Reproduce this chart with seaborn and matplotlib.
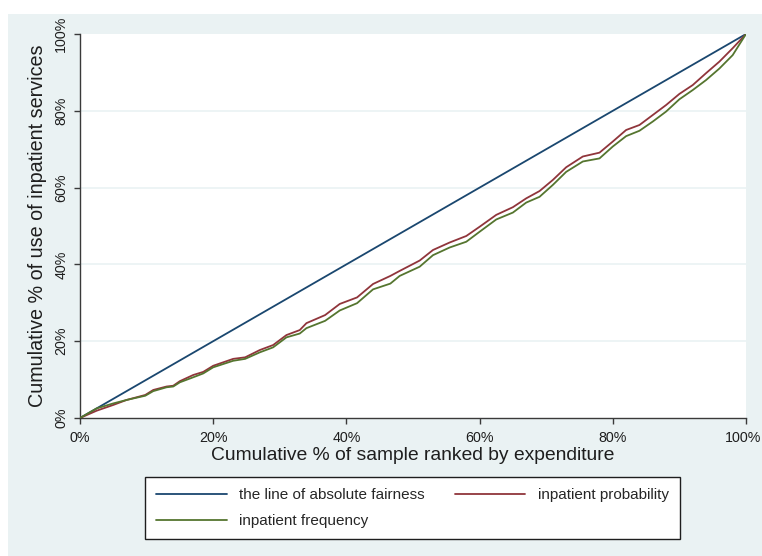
import matplotlib
matplotlib.use("Agg")
import matplotlib.pyplot as plt
import matplotlib.patches as mpatches
import matplotlib.transforms as mtransforms
from matplotlib.ticker import FixedLocator, FuncFormatter
import pandas as pd
import seaborn as sns

# Cumulative share of the sample, ranked by expenditure (%)
pop_share = [0, 2.5, 5, 7, 9.8, 11, 13, 14, 15, 17, 18.5, 20, 23, 24.8, 27, 29, 31, 33,
             34, 36.8, 39, 41.6, 44, 46.6, 48, 51, 53, 55.5, 58, 60, 62.5, 65, 67, 69,
             71, 73, 75.5, 78, 80, 82, 84, 86, 88, 90, 92, 94, 96, 98, 100]

# Concentration curve for inpatient probability (%)
prob_share = [0, 1.9, 3.4, 4.7, 6.0, 7.3, 8.2, 8.4, 9.6, 11.2, 12.0, 13.6, 15.4, 15.8,
              17.7, 19.0, 21.6, 22.9, 24.7, 26.8, 29.7, 31.4, 34.9, 37.0, 38.3, 41.0,
              43.75, 45.7, 47.4, 49.8, 52.9, 54.9, 57.2, 59.1, 62.0, 65.3, 68.1, 69.1,
              72.0, 75.0, 76.3, 78.9, 81.5, 84.4, 86.7, 89.8, 92.8, 96.3, 100]

# Concentration curve for inpatient frequency (%)
freq_share = [0, 2.5, 3.8, 4.7, 5.8, 7.0, 8.0, 8.2, 9.3, 10.6, 11.6, 13.2, 14.9, 15.4,
              17.1, 18.4, 21.0, 22.0, 23.4, 25.3, 28.0, 29.9, 33.5, 35.0, 37.0, 39.4,
              42.4, 44.4, 45.9, 48.5, 51.7, 53.5, 56.1, 57.6, 60.7, 64.1, 66.8, 67.6,
              70.7, 73.4, 74.8, 77.2, 79.8, 83.0, 85.4, 88.0, 91.0, 94.5, 100]

# Line of equality
equal_x = [0, 100]
equal_y = [0, 100]

tick_values = [0, 20, 40, 60, 80, 100]

label_equal = "the line of absolute fairness"
label_prob = "inpatient probability"
label_freq = "inpatient frequency"

NAVY = "#1A476F"
MAROON = "#90353B"
GREEN = "#55752F"
BG = "#EAF2F3"
INK = "#1e1e1e"

sns.set_theme(style="white")
plt.rcParams["font.family"] = ["Liberation Sans", "DejaVu Sans"]

W, H = 762, 556
fig = plt.figure(figsize=(W / 100, H / 100), dpi=100)
fig.patch.set_facecolor("white")
fig.patches.append(mpatches.Rectangle((8 / W, 0), 1, 1 - 14 / H, transform=fig.transFigure,
                                      facecolor=BG, edgecolor="none", zorder=-10))

ax = fig.add_axes([80 / W, 1 - 418 / H, (746 - 80) / W, (418 - 34) / H])
ax.set_facecolor("white")

df_eq = pd.DataFrame({"x": equal_x, "y": equal_y})
df_prob = pd.DataFrame({"x": pop_share, "y": prob_share})
df_freq = pd.DataFrame({"x": pop_share, "y": freq_share})

sns.lineplot(data=df_eq, x="x", y="y", ax=ax, color=NAVY, lw=1.3, label=label_equal,
             zorder=3)
sns.lineplot(data=df_prob, x="x", y="y", ax=ax, color=MAROON, lw=1.3, label=label_prob,
             zorder=3)
sns.lineplot(data=df_freq, x="x", y="y", ax=ax, color=GREEN, lw=1.3, label=label_freq,
             zorder=3)

ax.set_xlim(0, 100)
ax.set_ylim(0, 100)
ax.margins(0)

for v in tick_values[1:-1]:
    ax.axhline(v, color=BG, lw=1.2, zorder=1)

pct = FuncFormatter(lambda v, p: f"{v:.0f}%")
ax.xaxis.set_major_locator(FixedLocator(tick_values))
ax.yaxis.set_major_locator(FixedLocator(tick_values))
ax.xaxis.set_major_formatter(pct)
ax.yaxis.set_major_formatter(pct)

for s in ["top", "right"]:
    ax.spines[s].set_visible(False)
for s in ["left", "bottom"]:
    ax.spines[s].set_color("#3a3a3a")
    ax.spines[s].set_linewidth(1.0)

ax.tick_params(axis="both", which="major", direction="out", length=4.5, width=1.0,
               color="#3a3a3a", labelsize=10.3, labelcolor=INK,
               bottom=True, left=True)
ax.tick_params(axis="x", pad=5)
ax.tick_params(axis="y", pad=4)
plt.setp(ax.get_yticklabels(), rotation=90, va="center")

# keep the rightmost tick label inside the canvas
xlabels = ax.get_xticklabels()
xlabels[-1].set_transform(xlabels[-1].get_transform() +
                          mtransforms.ScaledTranslation(-3 / 100, 0, fig.dpi_scale_trans))

ax.set_xlabel("Cumulative % of sample ranked by expenditure", fontsize=13.9, color=INK,
              labelpad=1.5)
ax.set_ylabel("Cumulative % of use of inpatient services", fontsize=14.2, color=INK,
              labelpad=5)

handles, labels = ax.get_legend_handles_labels()
order = [0, 2, 1]
ax.legend([handles[i] for i in order], [labels[i] for i in order],
          ncol=2, mode="expand", loc="upper left",
          bbox_to_anchor=(145 / W, 1 - 537 / H, (680 - 145) / W, (537 - 477) / H),
          bbox_transform=fig.transFigure, borderaxespad=0,
          frameon=True, fancybox=False, edgecolor=INK, facecolor="white",
          framealpha=1, fontsize=11, handlelength=4.6, handletextpad=0.8,
          labelspacing=0.75, borderpad=0.75)
ax.get_legend().get_frame().set_linewidth(1.0)

fig.savefig("out.png", dpi=100, facecolor=fig.get_facecolor())
